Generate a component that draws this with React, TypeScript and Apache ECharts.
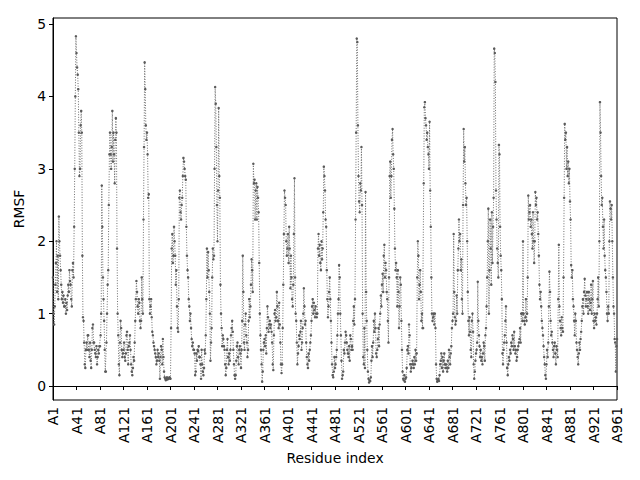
import React, { useEffect, useRef } from "react";
import * as echarts from "echarts";

// RMSF per residue (residues A1..A961)
const rmsfA = [
  1.5, 1.0, 0.85, 1.1, 1.4, 1.7, 2.0, 1.3, 1.8, 1.2,
  2.34, 2.0, 1.8, 1.6, 1.4, 1.2, 1.3, 1.15, 1.25, 1.1,
  1.1, 1.2, 1.0, 1.15, 1.05, 1.25, 1.4, 1.3, 1.6, 1.45,
  1.4, 1.2, 1.1, 1.6, 1.7, 1.5, 2.2, 3.0, 4.0, 4.83,
  4.6, 4.4, 4.3, 4.1, 3.5, 2.9, 3.0, 3.6, 3.8, 3.5,
  1.8, 0.95, 0.9, 0.6, 0.3, 0.25, 0.5, 0.6, 0.5, 0.7,
  0.7, 0.5, 0.4, 0.6, 0.35, 0.25, 0.5, 0.8, 0.85, 0.6,
  0.6, 0.5, 0.45, 0.4, 0.55, 0.3, 0.4, 0.5, 0.45, 0.55,
  0.55, 0.7, 1.0, 2.77, 2.2, 1.5, 1.2, 0.9, 0.5, 0.2,
  0.2, 0.6, 1.0, 1.4, 1.6, 2.5, 3.2, 3.5, 3.2, 3.0,
  3.3, 3.8, 3.1, 3.5, 3.2, 2.8, 3.4, 3.7, 3.5, 1.9,
  1.0, 0.7, 0.3, 0.15, 0.6, 0.9, 0.8, 0.5, 0.4, 0.45,
  0.5, 0.6, 0.4, 0.35, 0.45, 0.7, 0.75, 0.5, 0.3, 0.55,
  0.6, 0.7, 0.5, 0.3, 0.2, 0.15, 0.25, 0.4, 0.35, 0.6,
  0.9, 1.2, 1.45, 1.3, 1.1, 1.0, 1.2, 1.15, 0.9, 0.8,
  0.9, 1.5, 1.2, 1.0, 2.3, 3.3, 4.47, 4.1, 3.6, 3.4,
];
const rmsfB = [
  3.5, 3.2, 2.6, 2.65, 1.2, 1.0, 1.1, 1.2, 0.95, 0.75,
  0.7, 0.6, 0.55, 0.5, 0.45, 0.4, 0.3, 0.35, 0.5, 0.4,
  0.45, 0.35, 0.1, 0.4, 0.55, 0.5, 0.3, 0.65, 0.4, 0.2,
  0.12, 0.1, 0.08, 0.1, 0.12, 0.09, 0.1, 0.1, 0.12, 0.11,
  0.1, 0.8, 1.9, 2.1, 1.7, 1.8, 2.2, 2.0, 1.8, 1.4,
  1.6, 1.1, 0.8, 0.75, 1.2, 2.6, 2.7, 2.4, 2.3, 2.5,
  2.6, 2.9, 3.15, 3.1, 3.0, 2.9, 2.85, 2.2, 1.8, 1.6,
  1.5, 1.2, 1.1, 0.9, 1.0, 0.8, 0.65, 0.55, 0.6, 0.5,
  0.5, 0.45, 0.15, 0.2, 0.45, 0.35, 0.5, 0.48, 0.55, 0.4,
  0.4, 0.3, 0.1, 0.5, 0.3, 0.2, 0.15, 0.25, 0.5, 0.45,
  0.7, 1.2, 1.9, 1.5, 1.85, 1.6, 1.3, 1.0, 0.35, 0.6,
  0.8, 1.5, 1.9, 1.75, 1.8, 3.0, 4.13, 3.9, 3.3, 2.5,
  2.0, 2.7, 3.84, 2.9, 2.6, 1.4, 1.0, 0.8, 0.55, 0.7,
  0.65, 0.55, 0.5, 0.3, 0.15, 0.25, 0.5, 0.65, 0.4, 0.3,
  0.45, 0.35, 0.5, 0.7, 0.8, 0.9, 0.75, 0.5, 0.3, 0.15,
  0.1, 0.15, 0.35, 0.55, 0.6, 0.4, 0.3, 0.5, 0.55, 0.45,
];
const rmsfC = [
  0.25, 0.5, 0.9, 1.8, 1.3, 0.6, 0.5, 0.85, 1.0, 0.7,
  0.6, 0.4, 0.5, 0.9, 1.2, 0.95, 1.1, 1.4, 1.75, 1.6,
  1.3, 3.07, 2.8, 2.85, 2.3, 2.7, 2.8, 2.3, 2.75, 2.6,
  2.4, 1.7, 1.0, 0.7, 0.5, 0.3, 0.06, 0.2, 0.5, 0.6,
  0.65, 0.55, 0.7, 0.45, 0.8, 1.1, 0.95, 0.75, 0.85, 0.9,
  0.8, 0.85, 0.75, 0.6, 0.3, 0.22, 0.7, 1.0, 1.05, 0.9,
  0.95, 1.3, 1.1, 0.9, 0.8, 1.15, 0.85, 0.6, 0.3, 0.18,
  0.3, 0.8, 1.4, 2.1, 2.7, 2.6, 2.5, 2.0, 1.8, 1.9,
  2.1, 1.7, 2.2, 1.9, 1.35, 1.8, 1.5, 1.2, 1.1, 1.4,
  2.1, 2.87, 1.5, 1.0, 0.9, 0.6, 0.3, 0.45, 0.55, 0.7,
  0.65, 0.75, 0.9, 0.5, 0.6, 0.8, 1.0, 1.35, 1.1, 0.85,
  0.9, 0.6, 0.4, 0.3, 0.25, 0.45, 0.35, 0.5, 0.6, 0.7,
  0.9, 1.1, 1.2, 1.0, 1.15, 1.05, 0.95, 1.1, 1.0, 0.95,
  1.0, 1.9, 2.1, 1.8, 1.95, 1.7, 1.6, 2.0, 1.75, 1.9,
  2.4, 3.03, 2.9, 2.7, 2.3, 2.2, 1.6, 1.2, 0.95, 1.1,
  1.3, 1.5, 1.2, 0.9, 0.6, 0.3, 0.15, 0.12, 0.2, 0.4,
];
const rmsfD = [
  0.25, 0.3, 0.4, 0.5, 0.7, 1.0, 1.2, 1.67, 1.5, 1.0,
  0.7, 0.35, 0.1, 0.15, 0.2, 0.5, 0.45, 0.6, 0.75, 0.7,
  0.6, 0.5, 0.45, 0.4, 0.55, 0.35, 0.7, 0.65, 0.5, 0.55,
  0.5, 0.9, 1.1, 0.85, 1.2, 2.3, 3.5, 4.8, 4.75, 3.6,
  2.9, 2.55, 2.4, 2.8, 2.7, 3.3, 2.5, 1.0, 0.4, 0.3,
  0.8, 0.25, 2.68, 1.3, 0.9, 0.5, 0.2, 0.1, 0.05, 0.08,
  0.07, 0.12, 0.35, 0.55, 0.4, 0.6, 0.9, 0.75, 1.0, 0.8,
  0.45, 0.4, 0.5, 0.65, 0.8, 0.55, 0.85, 1.0, 1.25, 1.1,
  1.4, 1.55, 1.3, 1.8, 1.95, 1.5, 1.7, 1.6, 1.3, 1.2,
  0.9, 0.6, 1.5, 2.9, 3.1, 2.6, 2.9, 3.4, 3.55, 3.2,
  3.0, 2.45, 1.9, 1.6, 1.7, 1.5, 1.1, 1.6, 1.3, 0.8,
  1.1, 1.5, 1.4, 0.9, 0.5, 0.2, 0.1, 0.08, 0.15, 0.06,
  0.1, 0.12, 0.25, 0.5, 0.55, 0.45, 0.85, 0.7, 0.3, 0.2,
  0.25, 0.3, 0.35, 0.3, 0.25, 0.4, 0.3, 0.5, 0.35, 0.45,
  1.5, 2.0, 1.8, 1.2, 1.4, 1.6, 1.3, 0.9, 1.0, 0.8,
  0.8, 2.8, 3.85, 3.92, 3.7, 3.6, 3.4, 3.5, 3.3, 3.2,
];
const rmsfE = [
  3.0, 3.65, 2.7, 2.2, 1.5, 1.0, 0.9, 0.95, 1.0, 0.85,
  1.0, 0.8, 0.3, 0.1, 0.06, 0.08, 0.1, 0.07, 0.15, 0.3,
  0.35, 0.45, 0.25, 0.4, 0.2, 0.35, 0.45, 0.3, 0.25, 0.3,
  0.25, 0.2, 0.35, 0.25, 0.5, 0.4, 0.3, 0.45, 0.55, 0.8,
  0.9, 1.0, 2.1, 1.3, 0.95, 0.85, 0.9, 1.25, 1.0, 1.6,
  1.9, 2.3, 2.0, 2.1, 1.6, 1.75, 1.2, 1.0, 2.5, 3.55,
  3.1, 3.3, 2.8, 2.5, 2.6, 2.0, 1.3, 0.9, 0.7, 0.95,
  0.75, 0.5, 0.4, 0.9, 1.0, 0.75, 0.3, 0.1, 0.2, 0.35,
  0.45, 0.5, 0.6, 1.44, 0.9, 0.7, 0.55, 0.4, 0.5, 0.35,
  0.4, 0.3, 0.45, 0.6, 0.55, 0.35, 0.7, 0.8, 1.1, 1.5,
  2.0, 2.45, 1.0, 1.6, 2.3, 1.9, 1.4, 2.4, 1.7, 2.2,
  2.6, 4.66, 4.6, 4.2, 2.7, 2.3, 1.9, 1.7, 1.5, 3.33,
  3.2, 2.2, 1.8, 1.6, 1.2, 0.45, 0.3, 0.5, 0.6, 0.7,
  0.9, 1.1, 0.6, 0.25, 0.15, 0.3, 0.4, 0.35, 0.5, 0.45,
  0.6, 0.55, 0.7, 0.65, 0.5, 0.75, 0.55, 0.45, 0.5, 0.35,
  0.4, 0.5, 0.55, 0.6, 0.65, 0.8, 0.6, 1.0, 1.0, 0.9,
];
const rmsfF = [
  2.0, 1.0, 0.9, 0.85, 0.95, 1.2, 0.9, 1.0, 1.5, 2.63,
  2.3, 2.4, 2.5, 2.2, 2.3, 2.1, 1.9, 2.4, 2.0, 1.7,
  2.0, 2.68, 2.5, 2.6, 2.3, 2.4, 2.1, 1.8, 1.4, 1.2,
  1.3, 1.1, 0.9, 0.8, 0.7, 0.55, 0.4, 0.3, 0.15, 0.1,
  0.3, 0.5, 0.4, 0.6, 1.1, 1.58, 1.3, 0.9, 0.7, 0.75,
  0.6, 0.5, 0.4, 0.55, 0.6, 0.45, 0.3, 0.55, 0.5, 0.4,
  1.2, 1.95, 1.1, 0.9, 0.8, 0.7, 0.95, 0.8, 0.75, 1.5,
  2.6, 3.62, 3.4, 3.5, 3.0, 3.3, 2.9, 3.1, 2.8, 3.0,
  2.55, 2.3, 1.67, 1.5, 1.6, 1.2, 1.1, 0.9, 0.7, 1.0,
  0.9, 0.6, 0.5, 0.4, 0.3, 0.45, 0.6, 0.5, 0.65, 0.75,
  0.9, 1.1, 1.2, 1.0, 1.3, 1.48, 1.25, 1.1, 1.2, 1.3,
  1.1, 1.0, 1.3, 1.2, 1.05, 1.15, 1.4, 1.0, 1.2, 1.45,
  0.9, 0.8, 1.0, 0.9, 0.95, 0.85, 1.0, 1.2, 1.5, 1.1,
  2.0, 3.92, 3.5, 2.9, 2.5, 2.6, 2.2, 1.9, 2.3, 1.8,
  1.6, 1.5, 1.3, 1.0, 0.9, 1.1, 1.0, 2.0, 2.55, 2.45,
  2.3, 2.5, 2.0, 1.5, 1.1, 1.0, 0.65, 0.6, 0.2, 0.55,
  0.65,
];

const rmsfValues = [...rmsfA, ...rmsfB, ...rmsfC, ...rmsfD, ...rmsfE, ...rmsfF];
const residueLabels = rmsfValues.map((_, i) => `A${i + 1}`);
const yTickValues = [0, 1, 2, 3, 4, 5];
const yMin = -0.193;
const yMax = 5.083;

const FONT = "DejaVu Sans";

export default function App() {
  const ref = useRef<HTMLDivElement>(null);

  useEffect(() => {
    if (!ref.current) return;
    const chart = echarts.init(ref.current, undefined, { renderer: "svg" });
    chart.setOption({
      animation: false,
      backgroundColor: "#ffffff",
      grid: {
        left: 53,
        right: 23,
        top: 18,
        bottom: 80,
        show: true,
        borderColor: "#000000",
        borderWidth: 1,
        backgroundColor: "transparent",
      },
      xAxis: {
        type: "category",
        data: residueLabels,
        boundaryGap: false,
        name: "Residue index",
        nameLocation: "middle",
        nameGap: 50,
        nameTextStyle: { fontFamily: FONT, fontSize: 13.9, color: "#000" },
        axisLine: { show: true, lineStyle: { color: "#000", width: 1 } },
        axisTick: { show: true, interval: 39, length: 4, lineStyle: { color: "#000", width: 1 } },
        axisLabel: {
          interval: 39,
          rotate: 90,
          margin: 7,
          fontFamily: FONT,
          fontSize: 13.9,
          color: "#000",
        },
        splitLine: { show: false },
      },
      yAxis: {
        type: "value",
        min: yMin,
        max: yMax,
        name: "RMSF",
        nameLocation: "middle",
        nameGap: 24,
        nameTextStyle: { fontFamily: FONT, fontSize: 13.9, color: "#000" },
        axisLine: { show: true, lineStyle: { color: "#000", width: 1 } },
        axisTick: {
          show: true,
          length: 4,
          customValues: yTickValues,
          lineStyle: { color: "#000", width: 1 },
        },
        axisLabel: {
          customValues: yTickValues,
          margin: 7,
          fontFamily: FONT,
          fontSize: 13.9,
          color: "#000",
          formatter: (v: number) => String(Math.round(v)),
        },
        splitLine: { show: false },
      },
      series: [
        {
          type: "line",
          data: rmsfValues,
          showAllSymbol: true,
          symbol: "circle",
          symbolSize: 2.5,
          itemStyle: { color: "#5a5a5a" },
          lineStyle: { color: "#6e6e6e", width: 1, type: [1, 1.6] },
          emphasis: { disabled: true },
        },
      ],
    });
    return () => chart.dispose();
  }, []);

  return (
    <div
      ref={ref}
      style={{ position: "absolute", left: 0, top: 0, width: 640, height: 480, background: "#fff" }}
    />
  );
}
